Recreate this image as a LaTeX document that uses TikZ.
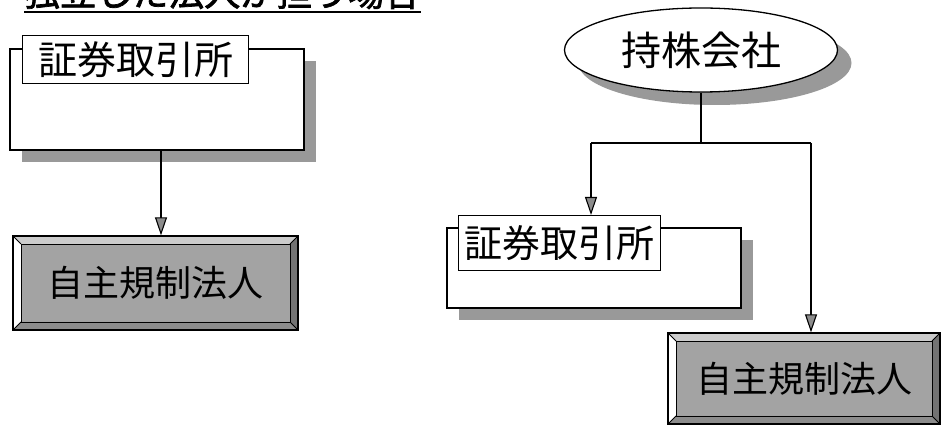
\documentclass[tikz,border=0pt]{standalone}
\usepackage{fontspec}
\newfontfamily\cjk{Noto Sans CJK JP}
\newfontfamily\cjkbold[FakeBold=2]{Noto Sans CJK JP}
\usetikzlibrary{arrows.meta,shapes.geometric,shadows,calc}
\tikzset{
  shadowfill/.style={fill=black!40},
  frame/.style={draw, line width=1.3pt, fill=white, inner sep=0pt,
    drop shadow={shadow xshift=12pt, shadow yshift=-12pt, shadowfill, opacity=1}},
  labelbox/.style={draw, line width=1.1pt, fill=white, inner sep=0pt, anchor=north west},
  bevelbox/.style={draw, line width=1.3pt, fill=black!36, inner sep=0pt,
    font=\cjk\fontsize{36}{36}\selectfont,
    path picture={
      \coordinate (nw) at (path picture bounding box.north west);
      \coordinate (ne) at (path picture bounding box.north east);
      \coordinate (sw) at (path picture bounding box.south west);
      \coordinate (se) at (path picture bounding box.south east);
      \fill[black!20] (nw) -- (ne) -- ([shift={(-8pt,-8pt)}]ne) -- ([shift={(8pt,-8pt)}]nw) -- cycle;
      \fill[white] (nw) -- (sw) -- ([shift={(8pt,8pt)}]sw) -- ([shift={(8pt,-8pt)}]nw) -- cycle;
      \fill[black!55] (ne) -- (se) -- ([shift={(-8pt,8pt)}]se) -- ([shift={(-8pt,-8pt)}]ne) -- cycle;
      \fill[black!45] (sw) -- (se) -- ([shift={(-8pt,8pt)}]se) -- ([shift={(8pt,8pt)}]sw) -- cycle;
      \draw[line width=0.8pt] ([shift={(8pt,-8pt)}]nw) rectangle ([shift={(-8pt,8pt)}]se);
      \draw[line width=0.8pt] (nw) -- ([shift={(8pt,-8pt)}]nw) (ne) -- ([shift={(-8pt,-8pt)}]ne)
        (sw) -- ([shift={(8pt,8pt)}]sw) (se) -- ([shift={(-8pt,8pt)}]se);
    }},
  arr/.style={line width=1.1pt, -{Triangle[width=12pt,length=18pt,fill=black!45]}},
  conn/.style={line width=1.1pt}
}
\begin{document}
\begin{tikzpicture}[x=1pt,y=-1pt]
\useasboundingbox (0,0) rectangle (948,427);
\clip (0,0) rectangle (948,427);
% title (cut off at the top in the reference)
\node[anchor=base west, inner sep=0pt, font=\cjkbold\fontsize{36}{36}\selectfont] (title) at (24,6) {独立した法人が担う場合};
\coordinate (ulA) at (24,12);
\coordinate (ulB) at (421,12);
\draw[line width=2pt] (ulA) -- (ulB);

% ---- left group ----
\node[frame, minimum width=294pt, minimum height=101pt] (f1) at (157,99.5) {};
\node[labelbox, minimum width=226pt, minimum height=48pt,
  font=\cjk\fontsize{39}{39}\selectfont] (lb1) at (22,35) {証券取引所};
\node[bevelbox, minimum width=285pt, minimum height=94pt] (reg1) at (155.5,283) {自主規制法人};
\coordinate (a1) at (161,150);
\draw[arr] (a1) -- (a1 |- reg1.north);

% ---- right group ----
\node[ellipse, draw, line width=1.3pt, fill=white, minimum width=273pt, minimum height=84pt,
  font=\cjk\fontsize{40}{40}\selectfont,
  drop shadow={shadow xshift=14pt, shadow yshift=-13pt, shadowfill, opacity=1}] (hc) at (701,50) {持株会社};
\node[frame, minimum width=294pt, minimum height=80pt] (f2) at (594,268) {};
\node[labelbox, minimum width=202pt, minimum height=55pt,
  font=\cjk\fontsize{38}{38}\selectfont] (lb2) at (458,215) {証券取引所};
\node[bevelbox, minimum width=272pt, minimum height=91pt] (reg2) at (804,378.5) {自主規制法人};
\coordinate (jl) at (591,143);
\coordinate (jr) at (811,143);
\draw[conn] (hc.south) -- (hc.south |- jl);
\draw[conn] (jl) -- (jr);
\draw[arr] (jl) -- (jl |- lb2.north);
\draw[arr] (jr) -- (jr |- reg2.north);
\end{tikzpicture}
\end{document}
